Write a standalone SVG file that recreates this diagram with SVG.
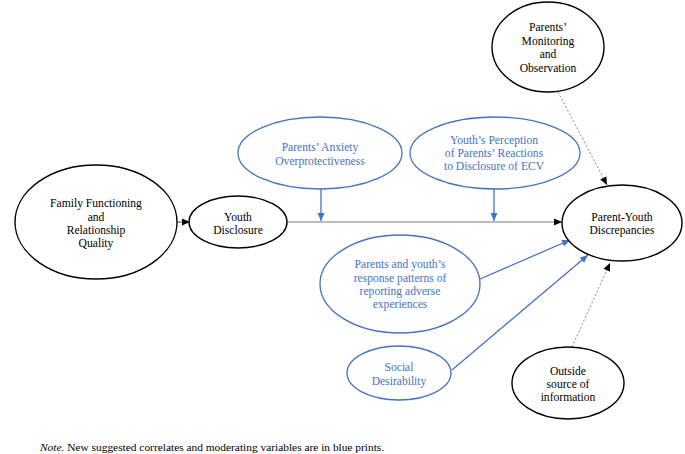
<svg xmlns="http://www.w3.org/2000/svg" width="685" height="454" viewBox="0 0 685 454" font-family="'Liberation Serif', 'DejaVu Serif', serif">
<style>
text{font-family:'Liberation Serif','DejaVu Serif',serif;font-size:11.6px;text-anchor:middle}
.k{fill:#fff;stroke:#000;stroke-width:1.4}
.b{fill:#fff;stroke:#4472C4;stroke-width:1.3}
.kt{fill:#000}
.bt{fill:#4472C4}
.gl{stroke:#a6a6a6;stroke-width:1.3;fill:none}
.bl{stroke:#4472C4;stroke-width:1.3;fill:none}
.dl{stroke:#555;stroke-width:0.7;stroke-dasharray:2 2;fill:none}
.kl{stroke:#444;stroke-width:1;fill:none}
</style>
<defs>
<marker id="ak" markerUnits="userSpaceOnUse" markerWidth="9" markerHeight="8" refX="8" refY="4" orient="auto"><path d="M0,0.5 L8,4 L0,7.5 z" fill="#000"/></marker>
<marker id="ab" markerUnits="userSpaceOnUse" markerWidth="9" markerHeight="8" refX="8" refY="4" orient="auto"><path d="M0,0.5 L8,4 L0,7.5 z" fill="#4472C4"/></marker>
</defs>
<rect width="685" height="454" fill="#fff"/>
<g id="connectors">
<line class="kl" x1="177" y1="222" x2="190" y2="222" marker-end="url(#ak)"/>
<line class="gl" x1="287" y1="222" x2="562" y2="222" marker-end="url(#ak)"/>
<line class="bl" x1="321" y1="189" x2="321" y2="221" marker-end="url(#ab)"/>
<line class="bl" x1="494" y1="189" x2="494" y2="221" marker-end="url(#ab)"/>
<line class="dl" x1="558" y1="92" x2="607" y2="185" marker-end="url(#ak)"/>
<line class="bl" x1="480" y1="279" x2="570" y2="240" marker-end="url(#ab)"/>
<line class="bl" x1="452" y1="370" x2="588" y2="255" marker-end="url(#ab)"/>
<line class="dl" x1="572" y1="347" x2="610" y2="263" marker-end="url(#ak)"/>
</g>
<g id="family">
<ellipse class="k" cx="96" cy="222" rx="81" ry="57"/>
<text class="kt" x="96" y="207">Family Functioning</text>
<text class="kt" x="96" y="221">and</text>
<text class="kt" x="96" y="234">Relationship</text>
<text class="kt" x="96" y="247">Quality</text>
</g>
<g id="youth-disclosure">
<ellipse class="k" cx="238" cy="222" rx="49" ry="26"/>
<text class="kt" x="238" y="221">Youth</text>
<text class="kt" x="238" y="234">Disclosure</text>
</g>
<g id="anxiety">
<ellipse class="b" cx="320" cy="153" rx="82" ry="36"/>
<text class="bt" x="320" y="151">Parents’ Anxiety</text>
<text class="bt" x="320" y="165">Overprotectiveness</text>
</g>
<g id="perception">
<ellipse class="b" cx="495" cy="153" rx="85" ry="36"/>
<text class="bt" x="494" y="144">Youth’s Perception</text>
<text class="bt" x="494" y="157">of Parents’ Reactions</text>
<text class="bt" x="494" y="170">to Disclosure of ECV</text>
</g>
<g id="monitoring">
<ellipse class="k" cx="548" cy="47" rx="56" ry="45"/>
<text class="kt" x="548" y="31">Parents’</text>
<text class="kt" x="548" y="45">Monitoring</text>
<text class="kt" x="548" y="58">and</text>
<text class="kt" x="548" y="72">Observation</text>
</g>
<g id="parent-youth">
<ellipse class="k" cx="622" cy="223" rx="60" ry="38"/>
<text class="kt" x="622" y="221">Parent-Youth</text>
<text class="kt" x="622" y="234">Discrepancies</text>
</g>
<g id="response-patterns">
<ellipse class="b" cx="400" cy="284" rx="80" ry="49"/>
<text class="bt" x="400" y="268">Parents and youth’s</text>
<text class="bt" x="400" y="282">response patterns of</text>
<text class="bt" x="400" y="295">reporting adverse</text>
<text class="bt" x="400" y="308">experiences</text>
</g>
<g id="social">
<ellipse class="b" cx="399" cy="373" rx="52" ry="27"/>
<text class="bt" x="399" y="371">Social</text>
<text class="bt" x="399" y="385">Desirability</text>
</g>
<g id="outside">
<ellipse class="k" cx="568" cy="383" rx="56" ry="36"/>
<text class="kt" x="568" y="375">Outside</text>
<text class="kt" x="568" y="388">source of</text>
<text class="kt" x="568" y="401">information</text>
</g>
<text x="40" y="451" style="text-anchor:start;font-size:11.4px"><tspan font-style="italic">Note.</tspan> New suggested correlates and moderating variables are in blue prints.</text>
</svg>
